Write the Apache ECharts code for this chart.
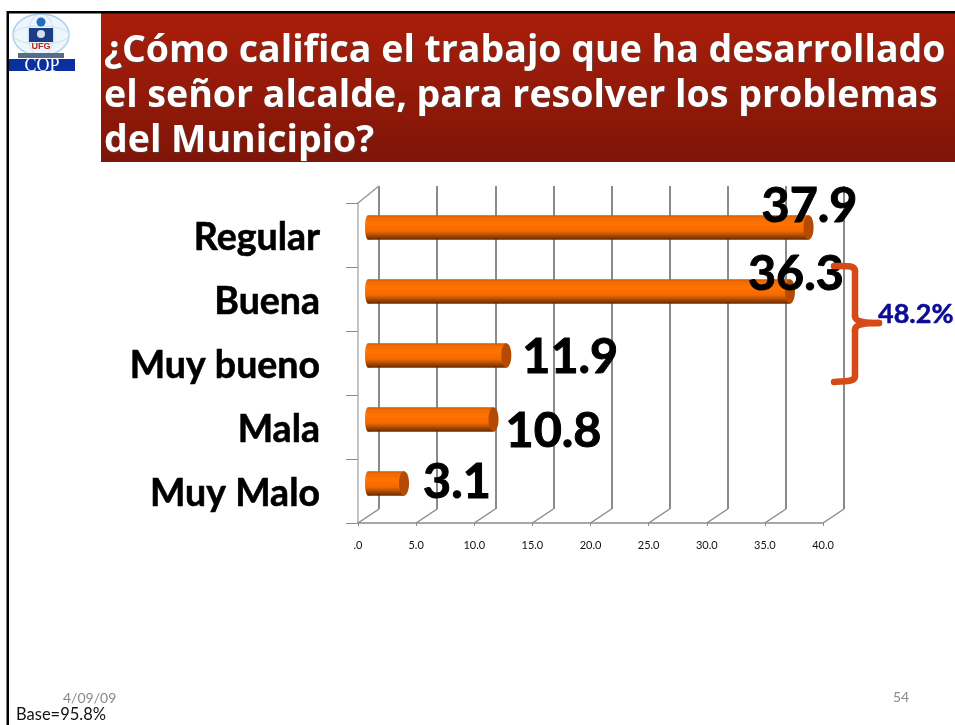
<!DOCTYPE html>
<html><head><meta charset="utf-8">
<style>html,body{margin:0;padding:0;background:#fff}#c{width:955px;height:725px}</style>
<script src="https://cdn.jsdelivr.net/npm/echarts@6/dist/echarts.min.js"></script>
</head><body><div id="c"></div>
<script>
const categories = ['Regular','Buena','Muy bueno','Mala','Muy Malo'];
const values = [37.9,36.3,11.9,10.8,3.1];
const valueTicks = [0,5,10,15,20,25,30,35,40];
const titleLines = ['¿Cómo califica el trabajo que ha desarrollado','el señor alcalde, para resolver los problemas','del Municipio?'];
const labelLeftShift = [-51,-46,12,8,15];
const labelUpShift = [21,17,-2,-12,1];

const chart = echarts.init(document.getElementById('c'), null, {renderer:'canvas'});
const F = 'Lato';
const cylGrad = new echarts.graphic.LinearGradient(0,0,0,1,[
 {offset:0,color:'#c85a00'},{offset:.08,color:'#ee6a00'},{offset:.35,color:'#ff7300'},
 {offset:.65,color:'#f26a00'},{offset:.82,color:'#b04c00'},{offset:1,color:'#642a00'}]);
const brace={stroke:'#d64a17',lineWidth:6.5,fill:'none',lineCap:'round'};

chart.setOption({
 animation:false,
 title:[{text:titleLines.join('\n'),left:99,top:24,
   textStyle:{fontFamily:'Open Sans',fontWeight:'bold',fontSize:37.5,lineHeight:45,color:'#fff',
   textShadowColor:'#5a3a34',textShadowBlur:1,textShadowOffsetX:1,textShadowOffsetY:1}}],
 grid:[
  {left:358,top:203,width:465,height:320},
  {left:379,top:186,width:465,height:323},
  {left:368,top:195.5,width:465,height:320},
  {left:358,top:206,width:465,height:320}
 ],
 xAxis:[
  {gridIndex:0,type:'value',min:0,max:40,interval:5,
   axisLine:{show:true,lineStyle:{color:'#8c8c8c',width:1.5}},
   axisTick:{show:true,length:3,lineStyle:{color:'#8c8c8c'}},splitLine:{show:false},
   axisLabel:{margin:17,fontFamily:F,fontSize:11,color:'#111',hideOverlap:false,showMinLabel:true,showMaxLabel:true,
    formatter:v=>v===0?'.0':v.toFixed(1)}},
  {gridIndex:1,type:'value',min:0,max:40,interval:5,axisLine:{show:false},axisTick:{show:false},axisLabel:{show:false},
   splitLine:{show:true,lineStyle:{color:'#8a8a8a',width:2}}},
  {gridIndex:2,type:'value',min:0,max:40,show:false,splitLine:{show:false}},
  {gridIndex:3,type:'value',min:0,max:40,show:false,splitLine:{show:false}}
 ],
 yAxis:[
  {gridIndex:0,type:'category',inverse:true,data:categories,
   axisLine:{show:true,lineStyle:{color:'#c4c4c4',width:2}},
   axisTick:{show:true,length:12,alignWithLabel:false,lineStyle:{color:'#8c8c8c'}},
   axisLabel:{show:false}},
  {gridIndex:1,type:'category',inverse:true,data:categories,show:false},
  {gridIndex:2,type:'category',inverse:true,data:categories,show:false},
  {gridIndex:3,type:'category',inverse:true,data:categories,
   axisLine:{show:false},axisTick:{show:false},
   axisLabel:{margin:38,fontFamily:F,fontWeight:'bold',fontSize:37.5,color:'#000',textBorderColor:'#000',textBorderWidth:0.6}}
 ],
 series:[
  {type:'custom',xAxisIndex:0,yAxisIndex:0,z:1,silent:true,clip:false,
   data:valueTicks.map(v=>[v,categories.length-1]),encode:{x:0,y:1},
   renderItem(p,api){
    const v=api.value(0);
    const c=api.coord([v,categories.length-1]);
    const y=523, x=c[0];
    const kids=[{type:'line',shape:{x1:x,y1:y,x2:x+21,y2:y-14},style:{stroke:'#8c8c8c',lineWidth:1.5}}];
    if(v===0) kids.push({type:'line',shape:{x1:x,y1:203,x2:x+21,y2:186},style:{stroke:'#9a9a9a',lineWidth:1.5}});
    return {type:'group',children:kids};
   }},
  {type:'custom',xAxisIndex:2,yAxisIndex:2,z:3,silent:true,clip:false,
   data:values.map((v,i)=>[v,i]),encode:{x:0,y:1},
   renderItem(p,api){
    const i=api.value(1), v=api.value(0);
    const end=api.coord([v,i]), start=api.coord([0,i]);
    const h=api.size([0,1])[1]*0.38;
    const top=end[1]-h/2;
    return {type:'group',children:[
      {type:'ellipse',shape:{cx:start[0],cy:end[1],rx:3,ry:h/2},style:{fill:cylGrad}},
      {type:'rect',shape:{x:start[0],y:top,width:end[0]-start[0],height:h},style:{fill:cylGrad}},
      {type:'ellipse',shape:{cx:end[0],cy:end[1],rx:5,ry:h/2},style:{fill:'#b54a02'}},
      {type:'text',x:end[0]+4+labelLeftShift[i],y:end[1]-labelUpShift[i],z2:5,
       style:{text:v.toFixed(1),fontFamily:F,fontWeight:'bold',fontSize:48.5,fill:'#000',stroke:'#000',lineWidth:1,align:'left',verticalAlign:'middle'}}
    ]};
   }}
 ],
 graphic:[
  {type:'rect',z:-10,shape:{x:101,y:13,width:854,height:149},
   style:{fill:new echarts.graphic.LinearGradient(0,0,0,1,[{offset:0,color:'#aa1e0a'},{offset:1,color:'#7e1508'}])}},
  {type:'ellipse',z:-9,shape:{cx:41,cy:35,rx:28,ry:21},style:{fill:'#eef6fc',stroke:'#a9d3ec',lineWidth:1.5}},
  {type:'ellipse',z:-9,shape:{cx:41,cy:35,rx:13,ry:21},style:{fill:'none',stroke:'#c4e0f2',lineWidth:1}},
  {type:'ellipse',z:-9,shape:{cx:41,cy:35,rx:28,ry:9},style:{fill:'none',stroke:'#c4e0f2',lineWidth:1}},
  {type:'circle',z:-7,shape:{cx:41,cy:22,r:4.5},style:{fill:'#1f6fc0'}},
  {type:'rect',z:-7,shape:{x:29,y:28,width:24,height:14},style:{fill:'#1c3c86'}},
  {type:'circle',z:-7,shape:{cx:41,cy:34,r:4},style:{fill:'#d8dfe8'}},
  {type:'text',z:-7,x:41,y:47,style:{text:'UFG',fontFamily:'Liberation Sans',fontWeight:'bold',fontSize:9,fill:'#b0281a',align:'center',verticalAlign:'middle'}},
  {type:'rect',z:-7,shape:{x:18,y:53,width:46,height:5},style:{fill:'#556b8c'}},
  {type:'rect',z:-7,shape:{x:9,y:59,width:66,height:12},style:{fill:'#0a30a0'}},
  {type:'text',z:-6,x:42,y:66,style:{text:'COP',fontFamily:'Liberation Serif',fontSize:18,fill:'#fff',align:'center',verticalAlign:'middle'}},
  {type:'rect',z:-5,shape:{x:7,y:11,width:948,height:2.5},style:{fill:'#000'}},
  {type:'rect',z:-5,shape:{x:6.5,y:11,width:2.5,height:714},style:{fill:'#000'}},
  {type:'bezierCurve',z:20,shape:{x1:834,y1:266,cpx1:846,cpy1:266,cpx2:855,cpy2:265,x2:855,y2:271},style:brace},
  {type:'line',z:20,shape:{x1:855,y1:271,x2:855,y2:316},style:brace},
  {type:'bezierCurve',z:20,shape:{x1:855,y1:316,cpx1:855,cpy1:322,cpx2:866,cpy2:323,x2:879,y2:323},style:brace},
  {type:'bezierCurve',z:20,shape:{x1:879,y1:323,cpx1:866,cpy1:323,cpx2:855,cpy2:324,x2:855,y2:330},style:brace},
  {type:'line',z:20,shape:{x1:855,y1:330,x2:855,y2:376},style:brace},
  {type:'bezierCurve',z:20,shape:{x1:855,y1:376,cpx1:855,cpy1:382,cpx2:846,cpy2:381,x2:834,y2:382},style:brace},
  {type:'text',z:21,x:878,y:314,style:{text:'48.2%',fontFamily:F,fontWeight:'bold',fontSize:27,fill:'#0b0b96',stroke:'#0b0b96',lineWidth:0.5,align:'left',verticalAlign:'middle'}},
  {type:'text',x:63,y:698,style:{text:'4/09/09',fontFamily:F,fontSize:14,fill:'#8a8a8a',align:'left',verticalAlign:'middle'}},
  {type:'text',x:893,y:697,style:{text:'54',fontFamily:F,fontSize:14,fill:'#8a8a8a',align:'left',verticalAlign:'middle'}},
  {type:'text',x:16,y:715,style:{text:'Base=95.8%',fontFamily:F,fontSize:16.5,fill:'#111',align:'left',verticalAlign:'middle'}}
 ]
});
</script></body></html>
